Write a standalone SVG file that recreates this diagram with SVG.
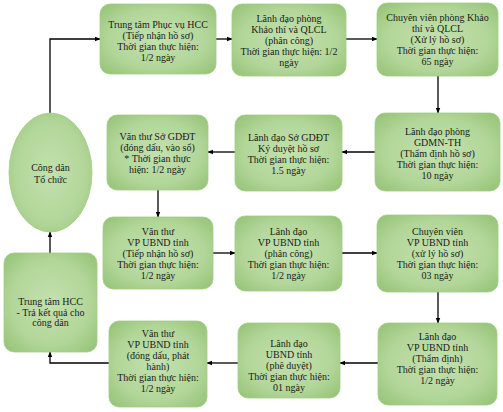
<svg xmlns="http://www.w3.org/2000/svg" width="503" height="412" viewBox="0 0 503 412">
<defs>
<radialGradient id="g" cx="50%" cy="50%" r="70%">
<stop offset="0" stop-color="#c3e1ae"/>
<stop offset="0.6" stop-color="#b2d699"/>
<stop offset="1" stop-color="#93c274"/>
</radialGradient>
<marker id="a" viewBox="0 0 10 10" refX="9" refY="5" markerWidth="6" markerHeight="6" orient="auto" markerUnits="userSpaceOnUse">
<path d="M0,1 L10,5 L0,9 Z" fill="#000"/>
</marker>
<style>
.n{fill:url(#g);stroke:#a3cc88;stroke-width:0.8}
.t{font-family:"Liberation Serif","Times New Roman",serif;font-size:10px;fill:#1a1a1a;text-anchor:middle}
.c{fill:none;stroke:#000;stroke-width:1.3;marker-end:url(#a)}
.l{fill:none;stroke:#000;stroke-width:1.3}
</style>
</defs>
<rect width="503" height="412" fill="#fff"/>
<g id="connectors">
<path class="c" d="M50,113 V39 H100"/>
<path class="c" d="M216,39 H232"/>
<path class="c" d="M346,39 H377"/>
<path class="c" d="M438,76 V113"/>
<path class="c" d="M375,152 H342"/>
<path class="c" d="M235,152 H208"/>
<path class="c" d="M158,190 V217"/>
<path class="c" d="M213,253 H235"/>
<path class="c" d="M342,253 H377"/>
<path class="c" d="M438,292 V323"/>
<path class="c" d="M378,363 H340"/>
<path class="c" d="M238,363 H207"/>
<path class="c" d="M109,363 H50 V352"/>
<path class="c" d="M50,253 V232"/>
</g>
<g id="n0"><ellipse class="n" cx="50.5" cy="172.5" rx="41.5" ry="59.5"/>
<text class="t" y="170.5"><tspan x="50.5">Công dân</tspan><tspan x="50.5" dy="12">Tổ chức</tspan></text></g>
<g id="n1"><rect class="n" x="100" y="4" width="116" height="70" rx="10"/>
<text class="t" y="27.5"><tspan x="158">Trung tâm Phục vụ  HCC</tspan><tspan x="158" dy="11">(Tiếp nhận hồ sơ)</tspan><tspan x="158" dy="11">Thời gian thực hiện:</tspan><tspan x="158" dy="11">1/2 ngày</tspan></text></g>
<g id="n2"><rect class="n" x="232" y="4" width="114" height="72" rx="10"/>
<text class="t" y="21.5"><tspan x="289">Lãnh đạo  phòng</tspan><tspan x="289" dy="11">Khảo thí và QLCL</tspan><tspan x="289" dy="11">(phân công)</tspan><tspan x="289" dy="11">Thời gian thực hiện: 1/2</tspan><tspan x="289" dy="11">ngày</tspan></text></g>
<g id="n3"><rect class="n" x="377" y="3" width="121" height="73" rx="10"/>
<text class="t" y="20.5"><tspan x="437.5">Chuyên viên phòng  Khảo</tspan><tspan x="437.5" dy="11">thí và QLCL</tspan><tspan x="437.5" dy="11">(Xử lý hồ sơ)</tspan><tspan x="437.5" dy="11">Thời gian thực hiện:</tspan><tspan x="437.5" dy="11">65  ngày</tspan></text></g>
<g id="n4"><rect class="n" x="375" y="113" width="125" height="78" rx="10"/>
<text class="t" y="134.5"><tspan x="437.5">Lãnh đạo  phòng</tspan><tspan x="437.5" dy="11">GDMN-TH</tspan><tspan x="437.5" dy="11">(Thẩm định hồ sơ)</tspan><tspan x="437.5" dy="11">Thời gian thực hiện:</tspan><tspan x="437.5" dy="11">10 ngày</tspan></text></g>
<g id="n5"><rect class="n" x="235" y="115" width="107" height="76" rx="10"/>
<text class="t" y="140.5"><tspan x="288.5">Lãnh đạo Sở GDĐT</tspan><tspan x="288.5" dy="11">Ký duyệt hồ sơ</tspan><tspan x="288.5" dy="11">Thời gian thực hiện:</tspan><tspan x="288.5" dy="11">1.5 ngày</tspan></text></g>
<g id="n6"><rect class="n" x="107" y="115" width="101" height="75" rx="10"/>
<text class="t" y="139.5"><tspan x="157.5">Văn thư Sở GDĐT</tspan><tspan x="157.5" dy="11">(đóng dấu, vào sổ)</tspan><tspan x="157.5" dy="11">* Thời gian thực</tspan><tspan x="157.5" dy="11">hiện: 1/2 ngày</tspan></text></g>
<g id="n7"><rect class="n" x="103" y="217" width="110" height="72" rx="10"/>
<text class="t" y="235"><tspan x="158">Văn thư</tspan><tspan x="158" dy="11">VP UBND tỉnh</tspan><tspan x="158" dy="11">(Tiếp nhận hồ sơ)</tspan><tspan x="158" dy="11">Thời gian thực hiện:</tspan><tspan x="158" dy="11">1/2 ngày</tspan></text></g>
<g id="n8"><rect class="n" x="235" y="216" width="107" height="75" rx="10"/>
<text class="t" y="235"><tspan x="288.5">Lãnh đạo</tspan><tspan x="288.5" dy="11">VP UBND tỉnh</tspan><tspan x="288.5" dy="11">(phân công)</tspan><tspan x="288.5" dy="11">Thời gian thực hiện:</tspan><tspan x="288.5" dy="11">1/2 ngày</tspan></text></g>
<g id="n9"><rect class="n" x="377" y="215" width="121" height="77" rx="10"/>
<text class="t" y="235"><tspan x="437.5">Chuyên viên</tspan><tspan x="437.5" dy="11">VP UBND tỉnh</tspan><tspan x="437.5" dy="11">(xử lý hồ sơ)</tspan><tspan x="437.5" dy="11">Thời gian thực hiện:</tspan><tspan x="437.5" dy="11">03  ngày</tspan></text></g>
<g id="n10"><rect class="n" x="378" y="323" width="119" height="82" rx="10"/>
<text class="t" y="340"><tspan x="437.5">Lãnh đạo</tspan><tspan x="437.5" dy="11">VP UBND tỉnh</tspan><tspan x="437.5" dy="11">(Thẩm định)</tspan><tspan x="437.5" dy="11">Thời gian thực hiện:</tspan><tspan x="437.5" dy="11">1/2 ngày</tspan></text></g>
<g id="n11"><rect class="n" x="238" y="323" width="102" height="75" rx="10"/>
<text class="t" y="346.5"><tspan x="289">Lãnh đạo</tspan><tspan x="289" dy="11">UBND tỉnh</tspan><tspan x="289" dy="11">(phê duyệt)</tspan><tspan x="289" dy="11">Thời gian thực hiện:</tspan><tspan x="289" dy="11">01 ngày</tspan></text></g>
<g id="n12"><rect class="n" x="109" y="321" width="98" height="86" rx="10"/>
<text class="t" y="336.5"><tspan x="158">Văn thư</tspan><tspan x="158" dy="11">VP UBND tỉnh</tspan><tspan x="158" dy="11">(đóng dấu, phát</tspan><tspan x="158" dy="11">hành)</tspan><tspan x="158" dy="11">Thời gian thực hiện:</tspan><tspan x="158" dy="11">1/2 ngày</tspan></text></g>
<g id="n13"><rect class="n" x="4" y="253" width="93" height="99" rx="10"/>
<text class="t" y="305"><tspan x="50.5">Trung tâm HCC</tspan><tspan x="50.5" dy="10.5">- Trả kết quả cho</tspan><tspan x="50.5" dy="10.5">công dân</tspan></text></g>
</svg>
